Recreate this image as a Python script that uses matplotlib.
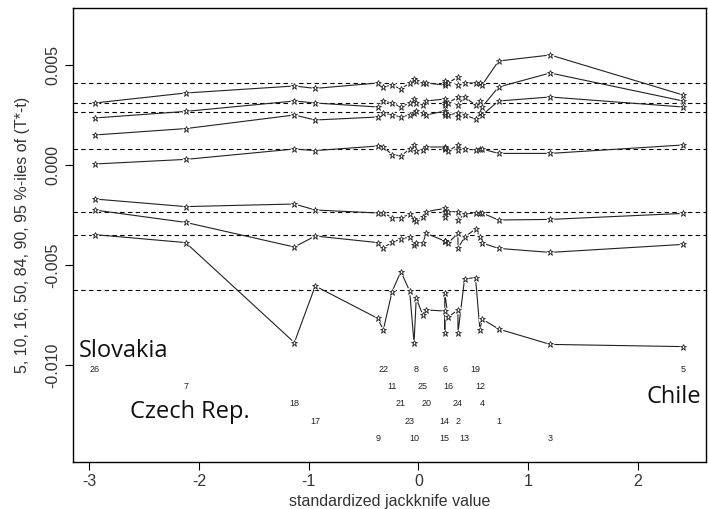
import matplotlib
matplotlib.use("Agg")
import matplotlib.pyplot as plt

# observations in order of their standardized jackknife value
obs = [26, 7, 18, 17, 9, 22, 11, 21, 23, 10, 8, 25, 20, 14, 15, 6, 16, 24, 2, 13, 19, 12, 4, 1, 3, 5]
jack = [-2.95, -2.12, -1.13, -0.94, -0.37, -0.32, -0.24, -0.16, -0.08, -0.04, -0.02, 0.04, 0.07,
        0.24, 0.24, 0.24, 0.27, 0.36, 0.36, 0.42, 0.52, 0.56, 0.58, 0.73, 1.20, 2.41]

# jackknife-after-bootstrap percentiles of (T*-t)
p05 = [-0.00348, -0.00388, -0.00888, -0.00605, -0.00767, -0.00825, -0.00633, -0.00533, -0.0063,
       -0.0089, -0.00667, -0.0075, -0.00725, -0.0073, -0.0084, -0.0064, -0.0076, -0.00725, -0.0084,
       -0.0057, -0.00563, -0.00825, -0.0077, -0.0082, -0.00897, -0.00908]
p10 = [-0.00225, -0.00287, -0.0041, -0.00355, -0.00388, -0.00413, -0.00387, -0.0037, -0.0036,
       -0.004, -0.0039, -0.0039, -0.00342, -0.0038, -0.0038, -0.0038, -0.0039, -0.00342, -0.00417,
       -0.0036, -0.0032, -0.0036, -0.0039, -0.00417, -0.00437, -0.00397]
p16 = [-0.0017, -0.00208, -0.00195, -0.00225, -0.0024, -0.0024, -0.00263, -0.00263, -0.00247,
       -0.0027, -0.0028, -0.0026, -0.00233, -0.00217, -0.0026, -0.00233, -0.00233, -0.00233, -0.00275,
       -0.00245, -0.0024, -0.0024, -0.0024, -0.00275, -0.00272, -0.00242]
p50 = [0.00005, 0.00028, 0.0008, 0.00072, 0.00095, 0.0009, 0.00052, 0.00045, 0.0008, 0.001,
       0.0007, 0.00075, 0.0009, 0.0009, 0.0008, 0.00085, 0.0007, 0.001, 0.00075, 0.0008,
       0.00075, 0.0008, 0.0008, 0.00058, 0.00058, 0.001]
p84 = [0.0015, 0.00182, 0.0025, 0.00225, 0.0024, 0.0026, 0.0025, 0.0024, 0.0025, 0.0026,
       0.0027, 0.0026, 0.0025, 0.0027, 0.0025, 0.0026, 0.0025, 0.0026, 0.0024, 0.0025,
       0.0023, 0.0026, 0.0025, 0.0032, 0.0034, 0.0029]
p90 = [0.00235, 0.00268, 0.0032, 0.0031, 0.0029, 0.0032, 0.0031, 0.0029, 0.0031, 0.0033,
       0.0031, 0.0030, 0.0032, 0.0033, 0.0031, 0.0030, 0.0031, 0.0034, 0.0030, 0.0034,
       0.0030, 0.0032, 0.0029, 0.0039, 0.0046, 0.0032]
p95 = [0.0031, 0.0036, 0.00395, 0.00383, 0.0041, 0.0039, 0.0040, 0.0038, 0.0041, 0.0043,
       0.0042, 0.0041, 0.0041, 0.0040, 0.0041, 0.0042, 0.0041, 0.0044, 0.0040, 0.0041,
       0.0041, 0.0041, 0.0040, 0.0052, 0.0055, 0.0035]

# percentiles from the full bootstrap
full = [-0.00625, -0.0035, -0.00235, 0.0008, 0.00265, 0.0031, 0.0041]

countries = ["Slovakia", "Czech Rep.", "Chile"]
country_pos = [(-3.09, -0.00959), (-2.627, -0.01265), (2.073, -0.0119)]

txt = "#333333"

fig = plt.figure(figsize=(7.09, 5.09), dpi=100)
ax = fig.add_axes([73 / 709, 47 / 509, 633 / 709, 454 / 509])

for v in full:
    ax.axhline(v, color="black", lw=0.8, ls=(0, (4, 3)), zorder=1)

for series in [p05, p10, p16, p50, p84, p90, p95]:
    ax.plot(jack, series, color="#222222", lw=0.8, zorder=2)
    ax.plot(jack, series, "o", ms=4.5, color="white", zorder=3)
    ax.plot(jack, series, "*", ms=5, mfc="white", mec="#222222", mew=0.6, zorder=4)

# observation numbers, stacked in five rows below the curves
for i, (o, x) in enumerate(zip(obs, jack)):
    ax.text(x, -0.0102 - (i % 5) * 0.00087, str(o), fontsize=6.5, color="#222222",
            ha="center", va="center", family="Liberation Sans")

for name, (x, y) in zip(countries, country_pos):
    ax.text(x, y, name, fontsize=17, color="#111111", family="Open Sans", va="baseline")

ax.set_xlim(-3.146, 2.619)
ax.set_ylim(-0.01485, 0.00785)
ax.set_xticks([-3, -2, -1, 0, 1, 2])
ax.set_xticklabels(["-3", "-2", "-1", "0", "1", "2"], family="Liberation Sans", fontsize=11.5, color=txt)
ax.set_yticks([-0.010, -0.005, 0.0, 0.005])
ax.set_yticklabels(["-0.010", "-0.005", "0.000", "0.005"], rotation=90, va="center",
                   family="Liberation Sans", fontsize=11.5, color=txt)
ax.tick_params(direction="out", length=6, width=0.8, pad=3)
for s in ax.spines.values():
    s.set_linewidth(1.0)

ax.set_xlabel("standardized jackknife value", family="Liberation Sans", fontsize=11.5, color=txt)
ax.set_ylabel("5, 10, 16, 50, 84, 90, 95 %-iles of (T*-t)", family="Liberation Sans",
              fontsize=11.5, color=txt)
ax.xaxis.set_label_coords(0.5, -0.07)
ax.yaxis.set_label_coords(-0.068, 0.5)

fig.savefig("out.png", dpi=100)
